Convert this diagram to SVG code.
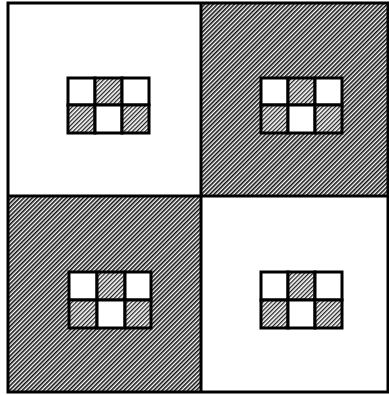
<svg xmlns="http://www.w3.org/2000/svg" width="389" height="396" viewBox="0 0 389 396">
<defs>
<pattern id="hatch" width="3" height="3" patternUnits="userSpaceOnUse" patternTransform="rotate(45)">
<rect width="3" height="3" fill="#fff"/>
<rect x="0" y="0" width="1.6" height="3" fill="#111"/>
</pattern>
<pattern id="hatchL" width="3" height="3" patternUnits="userSpaceOnUse" patternTransform="rotate(45)">
<rect width="3" height="3" fill="#fff"/>
<rect x="0" y="0" width="1.3" height="3" fill="#222"/>
</pattern>
</defs>
<style>
.frame{fill:none;stroke:#000;stroke-width:3}
.g{stroke:#000;stroke-width:3}
.w{fill:#fff}
.h{fill:url(#hatchL)}
</style>
<rect x="0" y="0" width="389" height="396" fill="#fff"/>
<g id="quadrant-tl"><rect x="8" y="3" width="193" height="193" fill="#fff"/></g>
<g id="quadrant-tr"><rect x="201" y="3" width="187" height="193" fill="url(#hatch)"/></g>
<g id="quadrant-bl"><rect x="8" y="196" width="193" height="196" fill="url(#hatch)"/></g>
<g id="quadrant-br"><rect x="201" y="196" width="187" height="196" fill="#fff"/></g>
<g id="frame">
<rect class="frame" x="8" y="3" width="380" height="389"/>
<line class="g" x1="201" y1="3" x2="201" y2="392"/>
<line class="g" x1="8" y1="196" x2="388" y2="196"/>
</g>
<g id="grid-tl">
<rect class="w g" x="68" y="78" width="27" height="27"/>
<rect class="h g" x="95" y="78" width="27" height="27"/>
<rect class="w g" x="122" y="78" width="27" height="27"/>
<rect class="h g" x="68" y="105" width="27" height="28"/>
<rect class="w g" x="95" y="105" width="27" height="28"/>
<rect class="h g" x="122" y="105" width="27" height="28"/>
</g>
<g id="grid-tr">
<rect class="w g" x="261" y="78" width="27" height="27"/>
<rect class="h g" x="288" y="78" width="27" height="27"/>
<rect class="w g" x="315" y="78" width="27" height="27"/>
<rect class="h g" x="261" y="105" width="27" height="28"/>
<rect class="w g" x="288" y="105" width="27" height="28"/>
<rect class="h g" x="315" y="105" width="27" height="28"/>
</g>
<g id="grid-bl">
<rect class="w g" x="69" y="272" width="28" height="28"/>
<rect class="h g" x="97" y="272" width="28" height="28"/>
<rect class="w g" x="125" y="272" width="26" height="28"/>
<rect class="h g" x="69" y="300" width="28" height="28"/>
<rect class="w g" x="97" y="300" width="28" height="28"/>
<rect class="h g" x="125" y="300" width="26" height="28"/>
</g>
<g id="grid-br">
<rect class="w g" x="261" y="272" width="27" height="28"/>
<rect class="h g" x="288" y="272" width="27" height="28"/>
<rect class="w g" x="315" y="272" width="27" height="28"/>
<rect class="h g" x="261" y="300" width="27" height="28"/>
<rect class="w g" x="288" y="300" width="27" height="28"/>
<rect class="h g" x="315" y="300" width="27" height="28"/>
</g>
</svg>
